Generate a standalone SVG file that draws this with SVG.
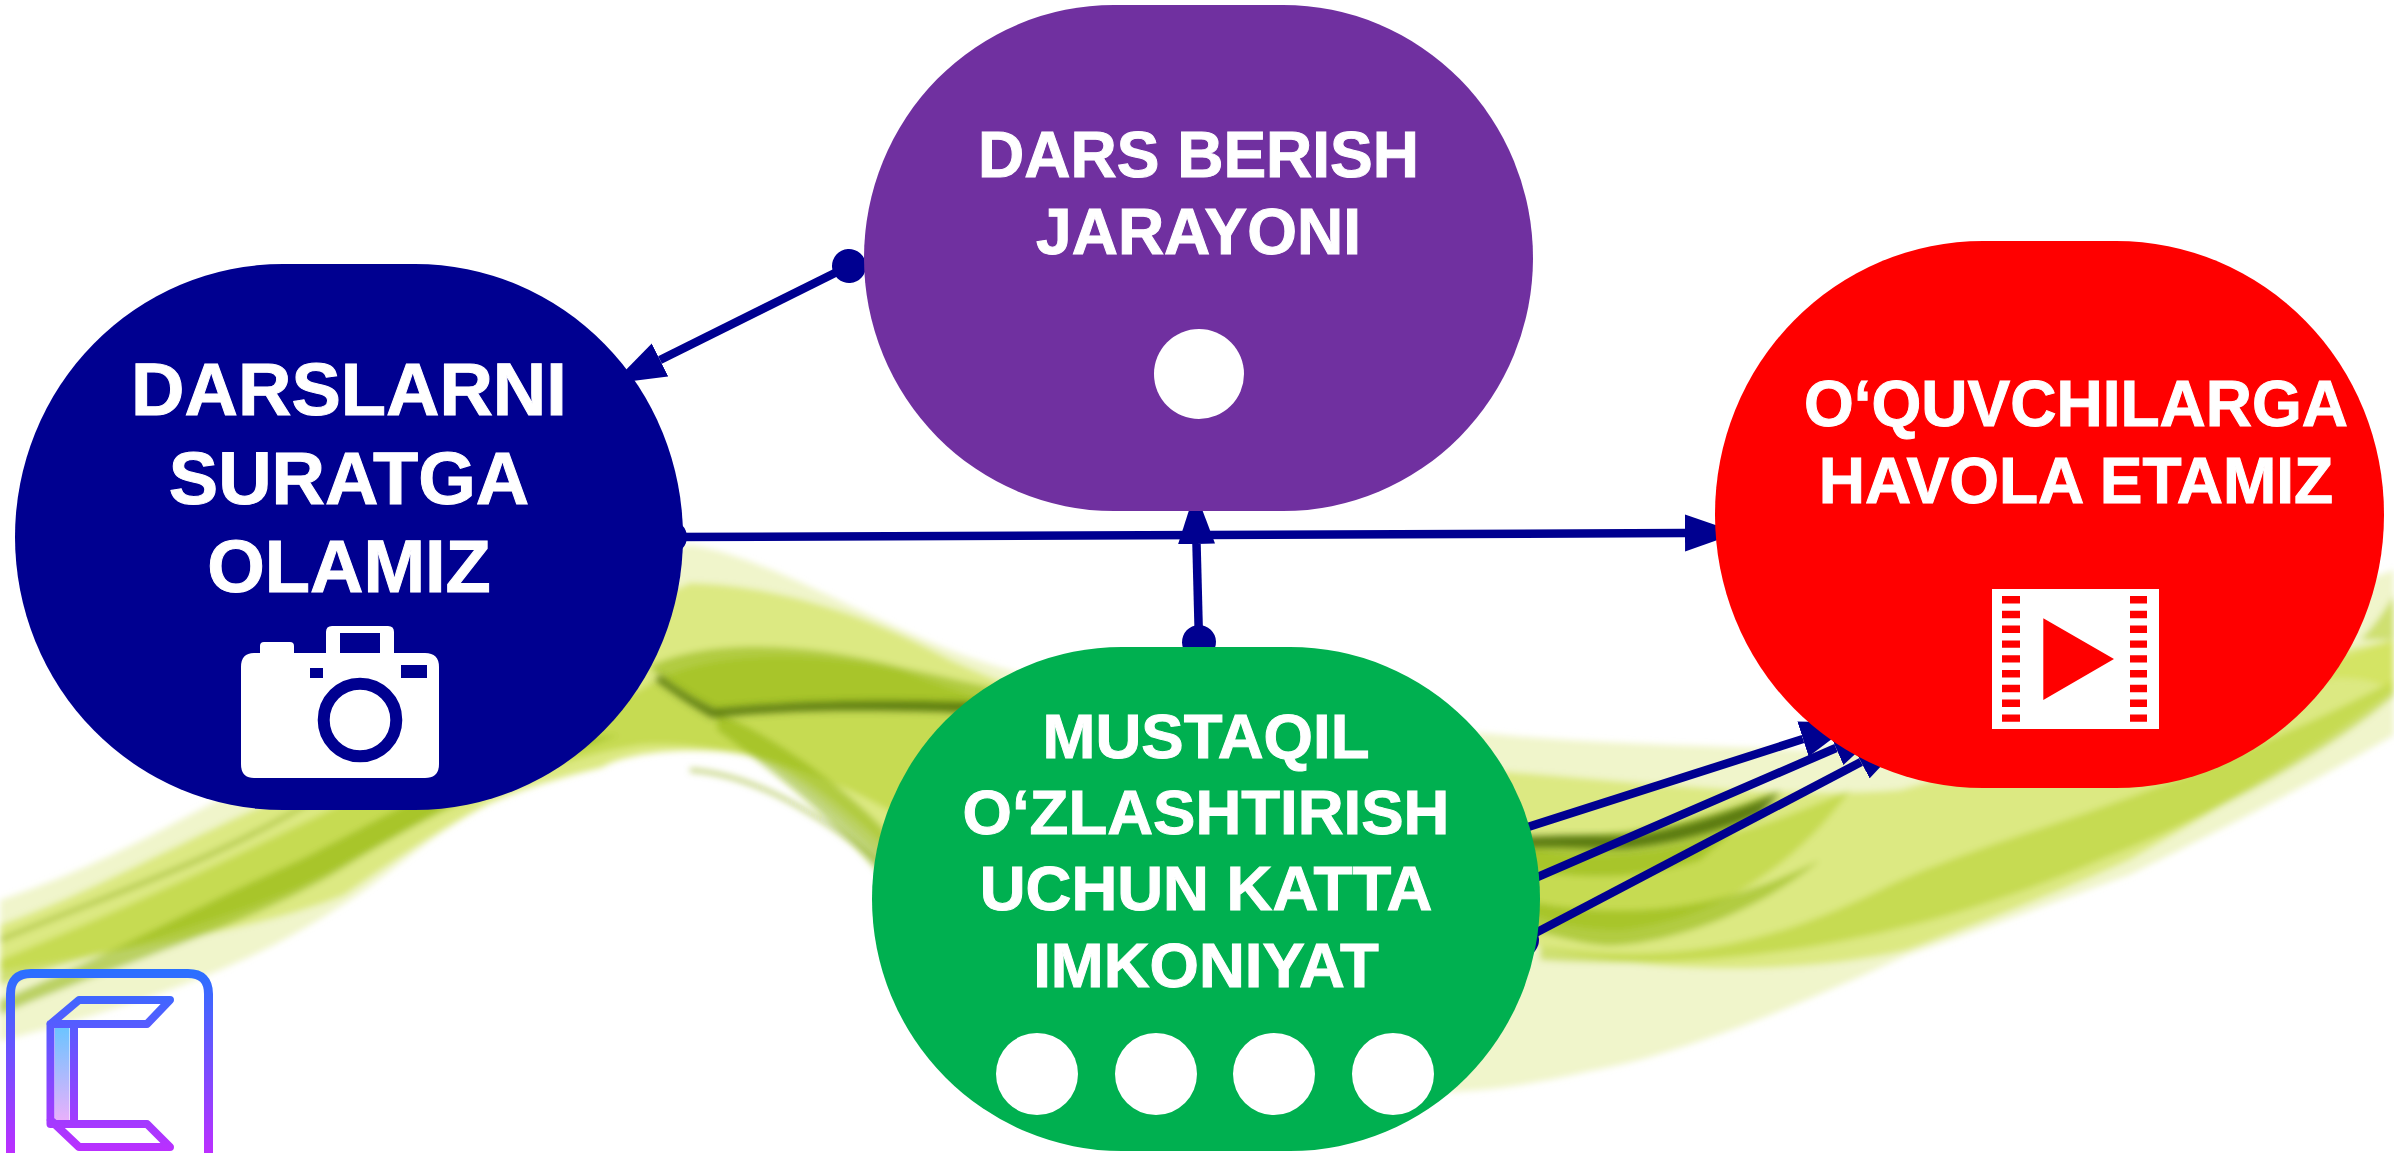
<svg xmlns="http://www.w3.org/2000/svg" width="2394" height="1153" viewBox="0 0 2394 1153">
<style>
.t{font-family:"Liberation Sans",Arial,sans-serif;font-weight:700;fill:#fff;stroke:#fff;stroke-width:1;text-anchor:middle}
.c{fill:none;stroke:#000090;stroke-width:8.500}
.h{fill:#fff}
.w0{fill:#e4eca0;opacity:.55}
.w1{fill:#cfe152;opacity:.6}
.w2{fill:#b5d02a;opacity:.55}
.w3{fill:#8fb40c;opacity:.55}
.w4{fill:#3f5f00;opacity:.75}
.s{fill:none;stroke:#8aa910;stroke-width:5;opacity:.45}
</style>
<defs>
<marker id="arrow" markerUnits="userSpaceOnUse" markerWidth="54" markerHeight="38" refX="0" refY="19" orient="auto"><path d="M0 .5L53 19L0 37.5Z" fill="#000090"/></marker>
<marker id="dot" markerUnits="userSpaceOnUse" markerWidth="36" markerHeight="36" refX="18" refY="18" orient="auto"><circle cx="18" cy="18" r="17" fill="#000090"/></marker>
<linearGradient id="lg" gradientUnits="userSpaceOnUse" x1="0" y1="969" x2="0" y2="1160"><stop offset="0" stop-color="#2970ff"/><stop offset="1" stop-color="#c22cff"/></linearGradient>
<linearGradient id="lf" gradientUnits="userSpaceOnUse" x1="0" y1="1028" x2="0" y2="1120"><stop offset="0" stop-color="#6cc4ff"/><stop offset="1" stop-color="#e8b0fb"/></linearGradient>
<filter id="b" x="-5%" y="-5%" width="110%" height="110%"><feGaussianBlur stdDeviation="3"/></filter>
<filter id="b2" x="-5%" y="-20%" width="110%" height="140%"><feGaussianBlur stdDeviation="3.500"/></filter>
</defs>
<rect width="2394" height="1153" fill="#fff"/>
<g id="background" filter="url(#b)">
<path class="w0" d="M0 900C60 880 115 855 180 820C260 780 400 700 520 620C600 575 640 550 690 545C760 555 850 610 950 650C1050 690 1250 730 1482 733C1600 745 1700 745 1806 750C1950 720 2200 640 2394 570V735C2300 790 2200 840 2129 875C2060 900 1980 930 1907 955C1800 1005 1680 1055 1590 1071C1530 1085 1490 1090 1450 1092L1300 1000L920 900C830 800 780 765 746 754C680 745 620 755 603 767C550 780 520 790 488 804C430 835 390 875 344 904C280 945 200 990 0 1041Z"/>
<path class="w1" d="M0 925C100 890 200 830 300 790C420 740 560 640 690 583C760 585 850 605 950 660C1100 730 1300 760 1482 770C1620 780 1780 800 1900 790C2050 750 2250 690 2394 640V690C2300 760 2200 820 2129 860C2040 900 1960 930 1907 950C1800 975 1650 975 1540 946L1300 900L920 880C830 790 780 760 746 754C680 745 620 755 603 767C550 780 520 790 488 804C430 835 380 870 344 895C260 930 120 950 0 971Z"/>
<path class="w2" d="M0 960C110 915 230 860 340 805C440 760 560 720 640 690C700 650 800 650 900 670C1000 710 1300 800 1540 850C1640 870 1760 830 1850 790C1800 860 1720 920 1620 930C1590 930 1560 925 1540 917C1300 860 1100 830 950 850C830 760 700 740 640 745C540 760 440 810 350 860C250 920 100 950 0 985Z"/>
<path class="w2" d="M1540 946C1660 965 1760 950 1880 890C1960 850 2080 820 2200 770C2280 735 2340 710 2394 680V696C2320 760 2200 820 2100 860C1950 925 1760 975 1540 960Z"/>
<path class="w3" d="M649 667C700 640 800 640 900 667C960 680 1040 700 1100 704V720C960 706 820 700 717 712C690 700 670 685 649 667Z"/>
<path class="w3" d="M717 712C770 735 830 775 880 825L940 900L900 900C840 820 770 770 717 730Z"/>
<path class="w3" d="M0 1000C110 955 200 905 300 860C380 820 460 770 560 740L620 735C520 765 420 820 340 870C240 930 100 970 0 1015Z"/>
<path class="w3" d="M1500 840C1600 838 1680 830 1780 790L1700 860C1640 880 1590 880 1500 868Z"/>
<path class="w3" d="M1500 895C1640 930 1740 900 1820 860C1760 910 1680 940 1620 945C1590 948 1560 935 1500 925Z"/>
<path class="w1" d="M2320 680C2350 675 2375 680 2394 690V640L2340 650Z"/>
<path class="w2" d="M2360 640C2375 625 2385 610 2394 595V640Z"/>
<path class="s" d="M0 940C120 890 220 860 330 790C430 730 500 700 600 690"/>
<path class="s" d="M690 770C760 775 830 820 900 880"/>
</g>
<g id="background-lines" filter="url(#b2)">
<path class="w4" d="M660 675C680 690 695 700 715 709C780 703 860 698 1000 704L1000 714C860 708 780 710 712 718C695 708 675 695 655 680Z"/>
<path class="w4" d="M1500 838C1570 834 1600 836 1630 836C1670 830 1710 818 1745 806L1780 793L1760 815C1720 830 1680 842 1630 848C1600 850 1560 846 1500 848Z"/>
</g>
<g id="connectors">
<path class="c" d="M849 266L660 360" marker-start="url(#dot)" marker-end="url(#arrow)"/>
<path class="c" d="M670 537L1685 533" marker-start="url(#dot)" marker-end="url(#arrow)"/>
<path class="c" d="M1199 642L1196.5 544" marker-start="url(#dot)" marker-end="url(#arrow)"/>
<path class="c" d="M1500 836L1803 739" marker-start="url(#dot)" marker-end="url(#arrow)"/>
<path class="c" d="M1510 889L1836 748" marker-start="url(#dot)" marker-end="url(#arrow)"/>
<path class="c" d="M1522 940L1861 762" marker-start="url(#dot)" marker-end="url(#arrow)"/>
</g>
<g id="node-darslarni">
<rect x="15" y="264" width="668" height="546" rx="268" ry="273" fill="#000090"/>
<text class="t" font-size="74" x="349" y="415">DARSLARNI</text>
<text class="t" font-size="74" x="349" y="504">SURATGA</text>
<text class="t" font-size="74" x="349" y="592">OLAMIZ</text>
<path class="h" fill-rule="evenodd" d="M254 653H260V646Q260 642 264 642H290Q294 642 294 646V653H326V632Q326 626 332 626H388Q394 626 394 632V653H425Q439 653 439 667V764Q439 778 425 778H254Q241 778 241 764V667Q241 653 254 653ZM340 633V653H380V633ZM310 668V678H323V668ZM401 665V678H427V665Z"/>
<circle cx="360" cy="720" r="36.3" fill="#fff" stroke="#000090" stroke-width="12"/>
</g>
<g id="node-dars">
<rect x="864" y="5" width="669" height="506" rx="250" ry="253" fill="#7030a0"/>
<text class="t" font-size="64" x="1198.500" y="177">DARS BERISH</text>
<text class="t" font-size="64" x="1198.500" y="254">JARAYONI</text>
<circle cx="1199" cy="374" r="45" fill="#fff"/>
</g>
<g id="node-oquvchilarga">
<rect x="1715" y="241" width="669" height="547" rx="268" ry="273" fill="#f00"/>
<text class="t" font-size="64" x="2076" y="426">O‘QUVCHILARGA</text>
<text class="t" font-size="64" x="2076" y="503">HAVOLA ETAMIZ</text>
<path class="h" fill-rule="evenodd" d="M1992 589H2159V729H1992ZM2043.3 618.3V700L2114 659ZM2002 596v7.400h18v-7.400ZM2002 610.800v7.400h18v-7.400ZM2002 625.600v7.400h18v-7.400ZM2002 640.400v7.400h18v-7.400ZM2002 655.200v7.400h18v-7.400ZM2002 670v7.400h18v-7.400ZM2002 684.800v7.400h18v-7.400ZM2002 699.600v7.400h18v-7.400ZM2002 714.400v7.400h18v-7.400ZM2130 596v7.400h17v-7.400ZM2130 610.800v7.400h17v-7.400ZM2130 625.600v7.400h17v-7.400ZM2130 640.400v7.400h17v-7.400ZM2130 655.200v7.400h17v-7.400ZM2130 670v7.400h17v-7.400ZM2130 684.800v7.400h17v-7.400ZM2130 699.600v7.400h17v-7.400ZM2130 714.400v7.400h17v-7.400Z"/>
</g>
<g id="node-mustaqil">
<rect x="872" y="647" width="668" height="504" rx="250" ry="252" fill="#00b050"/>
<text class="t" font-size="63.5" x="1206" y="758">MUSTAQIL</text>
<text class="t" font-size="63.5" x="1206" y="834">O‘ZLASHTIRISH</text>
<text class="t" font-size="63.5" x="1206" y="910">UCHUN KATTA</text>
<text class="t" font-size="63.5" x="1206" y="987">IMKONIYAT</text>
<circle cx="1037" cy="1074" r="41" fill="#fff"/>
<circle cx="1156" cy="1074" r="41" fill="#fff"/>
<circle cx="1274" cy="1074" r="41" fill="#fff"/>
<circle cx="1393" cy="1074" r="41" fill="#fff"/>
</g>
<g id="logo">
<path d="M10.500 1175V994Q10.500 973.500 31 973.500H188Q208.500 973.500 208.500 994V1175" fill="none" stroke="url(#lg)" stroke-width="9"/>
<rect x="55" y="1028" width="14.500" height="92" fill="url(#lf)"/>
<path d="M50.500 1024L79 1000H170L147 1024H50.500V1124M74 1024V1124M50.500 1120L79 1147H170L147 1124H50.500" fill="none" stroke="url(#lg)" stroke-width="8" stroke-linejoin="round" stroke-linecap="round"/>
</g>
</svg>
